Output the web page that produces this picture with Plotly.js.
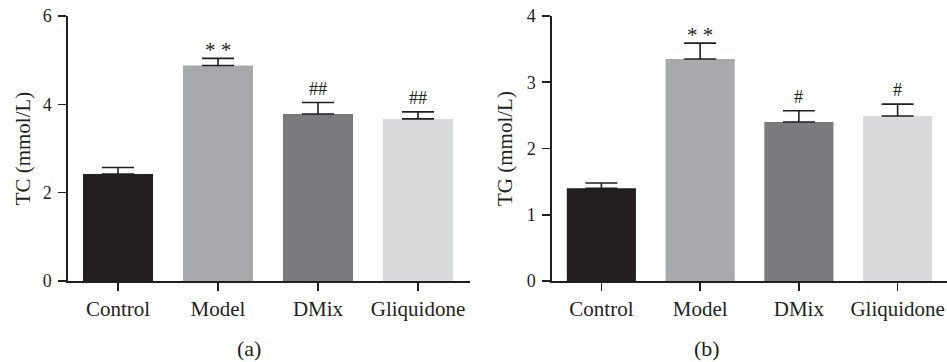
<!DOCTYPE html>
<html>
<head>
<meta charset="utf-8">
<script src="https://cdn.plot.ly/plotly-3.0.1.min.js"></script>
<style>html,body{margin:0;padding:0;background:#fff;}#chart{width:947px;height:362px;}</style>
</head>
<body>
<div id="chart"></div>
<script>
const categories = ["Control", "Model", "DMix", "Gliquidone"];
const barColors = ["#231f20", "#a7a9ac", "#7a7b7f", "#d9dadc"];
const tcValues = [2.42, 4.88, 3.78, 3.67];
const tcErrors = [0.15, 0.16, 0.26, 0.16];
const tcMarks = ["", "* *", "##", "##"];
const tgValues = [1.40, 3.35, 2.40, 2.49];
const tgErrors = [0.08, 0.24, 0.17, 0.18];
const tgMarks = ["", "* *", "#", "#"];
const panelLabels = ["(a)", "(b)"];
const yTitles = ["TC (mmol/L)", "TG (mmol/L)"];
const tcTicks = [0, 2, 4, 6];
const tgTicks = [0, 1, 2, 3, 4];

const ink = "#231f20";
const fontFam = "Liberation Serif, Times New Roman, serif";
const W = 947;

function barTrace(vals, errs, xa, ya) {
  return {
    type: "bar", x: categories, y: vals, xaxis: xa, yaxis: ya,
    marker: {color: barColors, line: {width: 0}},
    error_y: {type: "data", array: errs, arrayminus: errs.map(() => 0), symmetric: false,
      color: ink, thickness: 1.6, width: 16},
    showlegend: false, hoverinfo: "skip"
  };
}

const data = [
  barTrace(tcValues, tcErrors, "x", "y"),
  barTrace(tgValues, tgErrors, "x2", "y2")
];

const annotations = [];
function addMarks(vals, errs, marks, xr, yr) {
  marks.forEach((m, i) => {
    if (!m) return;
    const star = m.indexOf("*") >= 0;
    annotations.push({x: categories[i], y: vals[i] + errs[i], xref: xr, yref: yr, text: m,
      showarrow: false, yanchor: "bottom", yshift: star ? -6 : 2,
      font: {family: fontFam, size: star ? 21 : 18, color: ink}});
  });
}
addMarks(tcValues, tcErrors, tcMarks, "x", "y");
addMarks(tgValues, tgErrors, tgMarks, "x2", "y2");
annotations.push({x: 235 / W, y: -0.255, xref: "paper", yref: "paper", text: panelLabels[0],
  showarrow: false, yanchor: "middle", font: {family: fontFam, size: 22, color: ink}});
annotations.push({x: 722 / W, y: -0.255, xref: "paper", yref: "paper", text: panelLabels[1],
  showarrow: false, yanchor: "middle", font: {family: fontFam, size: 22, color: ink}});

const axCommon = {
  showline: true, linecolor: ink, linewidth: 1.6, ticks: "outside", ticklen: 8,
  tickwidth: 1.6, tickcolor: ink, showgrid: false, zeroline: false
};
const xTickFont = {family: fontFam, size: 21, color: ink};
const yTickFont = {family: fontFam, size: 18, color: ink};
const titleFont = {family: fontFam, size: 21, color: ink};

const layout = {
  width: 947, height: 362,
  margin: {l: 0, r: 0, t: 16, b: 81},
  paper_bgcolor: "#fff", plot_bgcolor: "#fff",
  bargap: 0.3,
  xaxis: Object.assign({}, axCommon, {domain: [68 / W, 470 / W], range: [-0.5, 3.52], anchor: "y", tickfont: xTickFont}),
  xaxis2: Object.assign({}, axCommon, {domain: [552 / W, 1], range: [-0.5, 3.5], anchor: "y2", tickfont: xTickFont}),
  yaxis: Object.assign({}, axCommon, {range: [0, 6], tickvals: tcTicks, anchor: "x", ticklabelstandoff: 3,
    tickfont: yTickFont, title: {text: yTitles[0], standoff: 6, font: titleFont}}),
  yaxis2: Object.assign({}, axCommon, {range: [0, 4], tickvals: tgTicks, anchor: "x2", ticklabelstandoff: 3,
    tickfont: yTickFont, title: {text: yTitles[1], standoff: 8, font: titleFont}}),
  annotations: annotations
};

Plotly.newPlot("chart", data, layout, {displayModeBar: false, staticPlot: true});
</script>
</body>
</html>
